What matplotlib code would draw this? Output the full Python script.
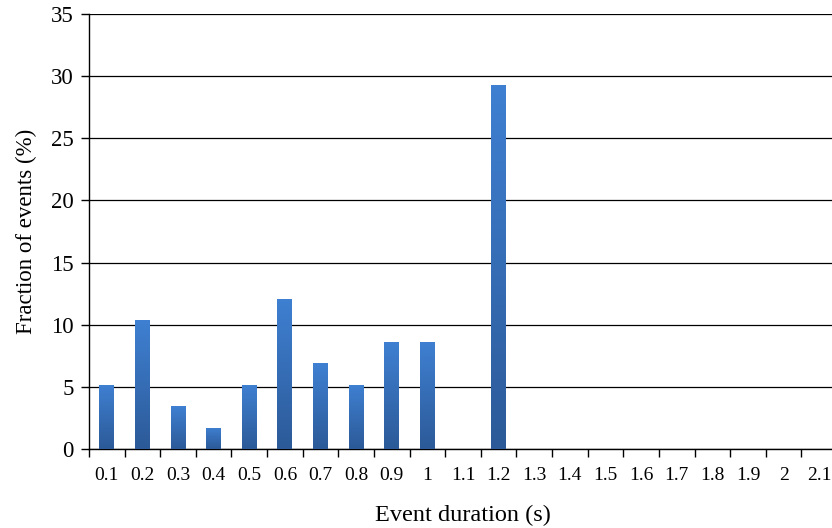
import numpy as np
import matplotlib
matplotlib.use("Agg")
import matplotlib.pyplot as plt
from matplotlib.colors import LinearSegmentedColormap

categories = ["0.1", "0.2", "0.3", "0.4", "0.5", "0.6", "0.7", "0.8", "0.9", "1",
              "1.1", "1.2", "1.3", "1.4", "1.5", "1.6", "1.7", "1.8", "1.9", "2", "2.1"]
values = [5.17, 10.34, 3.45, 1.72, 5.17, 12.07, 6.90, 5.17, 8.62, 8.62,
          0, 29.31, 0, 0, 0, 0, 0, 0, 0, 0, 0]
y_ticks = [0, 5, 10, 15, 20, 25, 30, 35]

plt.rcParams['font.family'] = ['Liberation Serif', 'DejaVu Serif']

fig = plt.figure(figsize=(8.32, 5.28), dpi=100)
ax = fig.add_axes([89/832, 79/528, 748/832, 435/528])

x = np.arange(len(categories))
bars = ax.bar(x, values, width=0.42, color='none', edgecolor='none', zorder=3)

cmap = LinearSegmentedColormap.from_list('g', ['#2c5a98', '#3f80d2'])
grad = np.linspace(0, 1, 256).reshape(-1, 1)
for b in bars:
    h = b.get_height()
    if h <= 0:
        continue
    x0 = b.get_x()
    w = b.get_width()
    im = ax.imshow(grad, cmap=cmap, origin='lower', aspect='auto',
                   extent=[x0, x0 + w, 0, h], zorder=3, interpolation='bilinear')
    im.set_clip_path(b)

ax.set_xlim(-0.5, len(categories) - 0.5)
ax.set_ylim(0, 35)
ax.set_yticks(y_ticks)
ax.set_yticklabels([str(t) for t in y_ticks], fontsize=16.5)
ax.yaxis.grid(True, color='black', linewidth=0.9, zorder=1)
ax.set_axisbelow(True)

ax.set_xticks(x)
ax.set_xticklabels(categories, fontsize=14)
ax.tick_params(axis='x', which='major', length=0, pad=13)
ax.set_xticks(np.arange(len(categories) + 1) - 0.5, minor=True)
ax.tick_params(axis='x', which='minor', length=6, width=1, direction='out')
ax.tick_params(axis='y', length=6, width=1, pad=5, direction='out')

for s in ['top', 'right']:
    ax.spines[s].set_visible(False)
ax.spines['left'].set_linewidth(1)
ax.spines['bottom'].set_linewidth(1)

ax.set_xlabel("Event duration (s)", fontsize=17.5, labelpad=15)
ax.set_ylabel("Fraction of events (%)", fontsize=16.5, labelpad=10)

fig.savefig("out.png", dpi=100)
